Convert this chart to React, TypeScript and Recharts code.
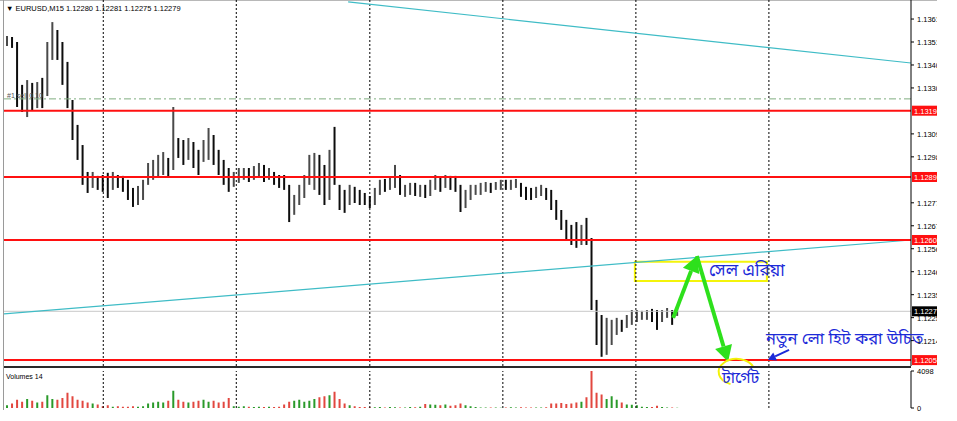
import React from 'react';
import {
  ComposedChart,
  Bar,
  Cell,
  XAxis,
  YAxis,
  ReferenceLine,
  ReferenceArea,
  ReferenceDot,
} from 'recharts';

// EURUSD M15 bars (one bar per slot)
const highs = [
  1.13537, 1.13533, 1.13510, 1.13314, 1.13336, 1.13323, 1.13327, 1.13346, 1.13510, 1.13601,
  1.13565, 1.13510, 1.13419, 1.13245, 1.13131, 1.13039, 1.12916, 1.12916, 1.12898, 1.12902,
  1.12912, 1.12916, 1.12902, 1.12898, 1.12880, 1.12843, 1.12852, 1.12880, 1.12957, 1.12971,
  1.12994, 1.13007, 1.12980, 1.13213, 1.13071, 1.13062, 1.13071, 1.13053, 1.13017, 1.13062,
  1.13117, 1.13085, 1.13017, 1.12971, 1.12934, 1.12916, 1.12934, 1.12934, 1.12934, 1.12943,
  1.12957, 1.12948, 1.12934, 1.12916, 1.12902, 1.12902, 1.12857, 1.12811, 1.12857, 1.12902,
  1.12994, 1.13003, 1.12994, 1.12948, 1.13017, 1.13122, 1.12857, 1.12834, 1.12857, 1.12848,
  1.12834, 1.12820, 1.12806, 1.12843, 1.12880, 1.12884, 1.12889, 1.12948, 1.12902, 1.12857,
  1.12866, 1.12866, 1.12857, 1.12857, 1.12880, 1.12902, 1.12889, 1.12902, 1.12898, 1.12898,
  1.12857, 1.12834, 1.12857, 1.12857, 1.12866, 1.12870, 1.12866, 1.12870, 1.12880, 1.12880,
  1.12880, 1.12884, 1.12866, 1.12848, 1.12843, 1.12848, 1.12857, 1.12843, 1.12834, 1.12788,
  1.12742, 1.12697, 1.12674, 1.12687, 1.12674, 1.12706, 1.12614, 1.12331, 1.12262, 1.12249,
  1.12240, 1.12249, 1.12240, 1.12262, 1.12285, 1.12285, 1.12281, 1.12285, 1.12290, 1.12285,
  1.12285, 1.12294, 1.12285, 1.12299,
];
const lows = [
  1.13492, 1.13483, 1.13213, 1.13190, 1.13167, 1.13199, 1.13208, 1.13208, 1.13263, 1.13428,
  1.13428, 1.13314, 1.13208, 1.13062, 1.12971, 1.12857, 1.12820, 1.12843, 1.12834, 1.12825,
  1.12797, 1.12834, 1.12843, 1.12825, 1.12788, 1.12756, 1.12765, 1.12788, 1.12857, 1.12880,
  1.12889, 1.12902, 1.12889, 1.12925, 1.12980, 1.12948, 1.12971, 1.12934, 1.12902, 1.12962,
  1.12971, 1.12948, 1.12902, 1.12857, 1.12825, 1.12848, 1.12866, 1.12880, 1.12870, 1.12880,
  1.12893, 1.12870, 1.12880, 1.12857, 1.12843, 1.12834, 1.12687, 1.12720, 1.12765, 1.12797,
  1.12857, 1.12834, 1.12811, 1.12765, 1.12788, 1.12857, 1.12742, 1.12729, 1.12765, 1.12774,
  1.12765, 1.12765, 1.12751, 1.12765, 1.12811, 1.12825, 1.12834, 1.12843, 1.12811, 1.12802,
  1.12811, 1.12806, 1.12802, 1.12797, 1.12806, 1.12834, 1.12825, 1.12843, 1.12834, 1.12825,
  1.12733, 1.12751, 1.12788, 1.12811, 1.12811, 1.12825, 1.12820, 1.12834, 1.12834, 1.12834,
  1.12834, 1.12843, 1.12802, 1.12788, 1.12788, 1.12797, 1.12806, 1.12788, 1.12742, 1.12697,
  1.12651, 1.12605, 1.12582, 1.12569, 1.12582, 1.12582, 1.12285, 1.12125, 1.12071, 1.12080,
  1.12125, 1.12171, 1.12185, 1.12203, 1.12217, 1.12230, 1.12240, 1.12240, 1.12230, 1.12194,
  1.12230, 1.12249, 1.12217, 1.12258,
];
const closes = [
  1.13519, 1.13501, 1.13268, 1.13245, 1.13268, 1.13254, 1.13291, 1.13282, 1.13473, 1.13542,
  1.13496, 1.13382, 1.13268, 1.13108, 1.13017, 1.12889, 1.12870, 1.12889, 1.12870, 1.12861,
  1.12857, 1.12880, 1.12870, 1.12852, 1.12820, 1.12788, 1.12834, 1.12852, 1.12925, 1.12943,
  1.12948, 1.12971, 1.12943, 1.13039, 1.13017, 1.12994, 1.13026, 1.12980, 1.12971, 1.13017,
  1.13062, 1.12994, 1.12948, 1.12902, 1.12880, 1.12889, 1.12902, 1.12907, 1.12898, 1.12921,
  1.12934, 1.12898, 1.12916, 1.12889, 1.12880, 1.12861, 1.12742, 1.12788, 1.12825, 1.12880,
  1.12948, 1.12971, 1.12925, 1.12902, 1.12971, 1.12902, 1.12788, 1.12765, 1.12825, 1.12806,
  1.12797, 1.12793, 1.12770, 1.12825, 1.12866, 1.12861, 1.12870, 1.12902, 1.12834, 1.12843,
  1.12852, 1.12834, 1.12834, 1.12825, 1.12843, 1.12880, 1.12861, 1.12880, 1.12870, 1.12852,
  1.12765, 1.12811, 1.12834, 1.12843, 1.12852, 1.12857, 1.12852, 1.12861, 1.12866, 1.12861,
  1.12870, 1.12870, 1.12820, 1.12811, 1.12806, 1.12816, 1.12834, 1.12811, 1.12765, 1.12720,
  1.12674, 1.12642, 1.12614, 1.12605, 1.12628, 1.12605, 1.12331, 1.12194, 1.12148, 1.12171,
  1.12194, 1.12217, 1.12212, 1.12240, 1.12258, 1.12267, 1.12267, 1.12272, 1.12262, 1.12249,
  1.12267, 1.12276, 1.12262, 1.12279,
];
const volumes = [
  300, 500, 900, 700, 1000, 800, 600, 700, 1400, 1000,
  900, 1100, 1700, 1300, 900, 800, 600, 500, 400, 200,
  300, 150, 200, 150, 150, 200, 150, 200, 500, 600,
  700, 600, 800, 1900, 900, 700, 600, 700, 800, 900,
  700, 800, 600, 700, 1100, 200, 150, 200, 150, 100,
  150, 100, 150, 100, 150, 400, 700, 800, 900, 700,
  800, 1000, 1200, 1300, 1400, 1800, 1000, 500, 300, 200,
  100, 100, 80, 80, 100, 50, 100, 80, 50, 50,
  100, 80, 150, 450, 400, 350, 300, 400, 250, 300,
  500, 300, 200, 100, 50, 50, 60, 50, 40, 50,
  80, 50, 80, 50, 50, 60, 50, 80, 500, 500,
  550, 450, 500, 600, 700, 1200, 4098, 1700, 1500, 1000,
  1300, 900, 600, 400, 350, 300, 150, 100, 100, 250,
  100, 50, 50, 30,
];

const priceTicks = [
  1.13615, 1.1351, 1.13405, 1.133, 1.1309, 1.12985, 1.12775,
  1.1267, 1.12565, 1.1246, 1.12355, 1.1225, 1.12145,
];
const levels = [1.13196, 1.12893, 1.12605, 1.12056];
const orderLevel = 1.1325;
const lastPrice = 1.12279;
const volTicks = [0, 4098];
const gridBars = [19.2, 45.6, 72.1, 98.5, 124.9, 151.3];

const upperTrend = [{ x: 67.8, y: 1.13693 }, { x: 179.5, y: 1.13414 }];
const lowerTrend = [{ x: -0.5, y: 1.12267 }, { x: 179.5, y: 1.12605 }];
const sellZone = { x1: 124.7, x2: 150.9, y1: 1.12418, y2: 1.12505 };
const arrowUp = [{ x: 132.3, y: 1.12249 }, { x: 137.0, y: 1.12532 }];
const arrowDown = [{ x: 137.0, y: 1.12532 }, { x: 143.2, y: 1.12048 }];
const hintArrow = [{ x: 155.3, y: 1.12103 }, { x: 151.1, y: 1.12057 }];
const targetSpot = { x: 144.9, y: 1.12002 };
const notes = [
  { x: 139.4, y: 1.12468, text: 'সেল এরিয়া', size: 17 },
  { x: 150.7, y: 1.12157, text: 'নতুন লো হিট করা উচিত', size: 16.5 },
  { x: 142.0, y: 1.11979, text: 'টার্গেট', size: 16 },
];

const X_DOMAIN: [number, number] = [-0.5, 179.5];
const Y_DOMAIN: [number, number] = [1.12029, 1.13702];
const FONT = '"Liberation Sans", Arial, sans-serif';
const BENGALI = '"Noto Sans", "Noto Sans Bengali", "Lohit Bengali", sans-serif';

const rows = closes.map((c, i) => ({
  i,
  range: [lows[i], highs[i]],
  vol: volumes[i],
  up: i === 0 ? true : c >= closes[i - 1],
}));

const PriceTick = (props: any) => {
  const { x, y, payload } = props;
  return (
    <text x={x + 1} y={y + 3} fontSize={7.5} fontFamily={FONT} fill="#000">
      {payload.value.toFixed(5)}
    </text>
  );
};

const VolTick = (props: any) => {
  const { x, y, payload } = props;
  return (
    <text x={x + 1} y={y + 3} fontSize={7.5} fontFamily={FONT} fill="#000">
      {payload.value}
    </text>
  );
};

const priceTag = (value: number, bg: string) => (p: any) => (
  <g>
    <rect x={p.cx + 1} y={p.cy - 5} width={40} height={10} fill={bg} />
    <text x={p.cx + 3} y={p.cy + 3} fontSize={7.5} fontFamily={FONT} fill="#fff">
      {value.toFixed(5)}
    </text>
  </g>
);

const arrowShape = (color: string, width: number, head: number) => (p: any) => {
  const { x1, y1, x2, y2 } = p;
  const a = Math.atan2(y2 - y1, x2 - x1);
  const bx = x2 - head * Math.cos(a);
  const by = y2 - head * Math.sin(a);
  const nx = -Math.sin(a) * head * 0.55;
  const ny = Math.cos(a) * head * 0.55;
  return (
    <g>
      <line x1={x1} y1={y1} x2={bx} y2={by} stroke={color} strokeWidth={width} />
      <polygon points={`${x2},${y2} ${bx + nx},${by + ny} ${bx - nx},${by - ny}`} fill={color} />
    </g>
  );
};

const ringShape = (p: any) => {
  const { cx, cy } = p;
  const rx = 18;
  const ry = 13;
  const pt = (deg: number) => {
    const r = (deg * Math.PI) / 180;
    return `${cx + rx * Math.cos(r)},${cy - ry * Math.sin(r)}`;
  };
  return (
    <path
      d={`M${pt(20)} A${rx},${ry} 0 1,0 ${pt(250)}`}
      fill="none"
      stroke="#f2f20a"
      strokeWidth={2}
    />
  );
};

const noteShape = (text: string, size: number) => (p: any) => (
  <text x={p.cx} y={p.cy + size * 0.35} fontSize={size} fontFamily={BENGALI} fill="#1c2ad8">
    {text}
  </text>
);

const orderTag = (p: any) => (
  <text x={p.cx} y={p.cy - 1} fontSize={7} fontFamily={FONT} fill="#555">
    #1 sell 0.10
  </text>
);

export default function App() {
  return (
    <div
      style={{
        position: 'absolute',
        left: 0,
        top: 0,
        width: 957,
        height: 421,
        background: '#fff',
        overflow: 'hidden',
      }}
    >
      <style>{'.recharts-surface{overflow:visible}'}</style>
      <div style={{ position: 'absolute', left: 0, top: 0, width: 937, height: 1, background: '#b8b8b8' }} />
      <div style={{ position: 'absolute', left: 3, top: 0, width: 1, height: 410, background: '#9a9a9a' }} />

      <div style={{ position: 'absolute', left: 0, top: 0 }}>
        <ComposedChart width={957} height={366} data={rows} margin={{ top: 0, right: 0, bottom: 0, left: 4 }}>
          <XAxis type="number" dataKey="i" domain={X_DOMAIN} hide allowDataOverflow />
          <YAxis
            orientation="right"
            width={46}
            domain={Y_DOMAIN}
            allowDataOverflow
            ticks={priceTicks}
            interval={0}
            tick={PriceTick}
            tickSize={3}
            tickLine={{ stroke: '#000' }}
            axisLine={{ stroke: '#000' }}
          />
          {gridBars.map(g => (
            <ReferenceLine key={g} x={g} stroke="#000" strokeDasharray="2 2" />
          ))}
          <ReferenceLine y={orderLevel} stroke="#7fae7f" strokeDasharray="7 3 2 3" />
          <ReferenceLine y={lastPrice} stroke="#c8c8c8" />
          <ReferenceLine segment={upperTrend} stroke="#3fbcc6" strokeWidth={1.2} ifOverflow="hidden" />
          <ReferenceLine segment={lowerTrend} stroke="#3fbcc6" strokeWidth={1.2} ifOverflow="hidden" />
          {levels.map(l => (
            <ReferenceLine key={l} y={l} stroke="#ff1010" strokeWidth={2} />
          ))}
          <ReferenceArea
            x1={sellZone.x1}
            x2={sellZone.x2}
            y1={sellZone.y1}
            y2={sellZone.y2}
            fill="none"
            fillOpacity={0}
            stroke="#f4f40c"
            strokeWidth={2}
          />
          <Bar dataKey="range" barSize={2} fill="#1a1a1a" isAnimationActive={false}>
            {rows.map(r => (
              <Cell key={r.i} fill={r.up ? '#4a4a4a' : '#0d0d0d'} />
            ))}
          </Bar>
          <ReferenceLine segment={arrowUp} shape={arrowShape('#2ee01c', 4, 16)} ifOverflow="visible" />
          <ReferenceLine segment={arrowDown} shape={arrowShape('#2ee01c', 4, 16)} ifOverflow="visible" />
          <ReferenceLine segment={hintArrow} shape={arrowShape('#1c2ad8', 2, 8)} ifOverflow="visible" />
          <ReferenceDot x={targetSpot.x} y={targetSpot.y} r={0} shape={ringShape} ifOverflow="visible" />
          {notes.map(n => (
            <ReferenceDot key={n.text} x={n.x} y={n.y} r={0} shape={noteShape(n.text, n.size)} ifOverflow="visible" />
          ))}
          <ReferenceDot x={0.1} y={orderLevel} r={0} shape={orderTag} ifOverflow="visible" />
          {levels.map(l => (
            <ReferenceDot key={'t' + l} x={179.5} y={l} r={0} shape={priceTag(l, '#ff1010')} ifOverflow="visible" />
          ))}
          <ReferenceDot x={179.5} y={lastPrice} r={0} shape={priceTag(lastPrice, '#000')} ifOverflow="visible" />
        </ComposedChart>
      </div>

      <div style={{ position: 'absolute', left: 4, top: 366, width: 907, height: 2, background: '#2a2a2a' }} />

      <div style={{ position: 'absolute', left: 0, top: 366 }}>
        <ComposedChart width={957} height={45} data={rows} margin={{ top: 5, right: 0, bottom: 3, left: 4 }}>
          <XAxis type="number" dataKey="i" domain={X_DOMAIN} hide allowDataOverflow />
          <YAxis
            orientation="right"
            width={46}
            domain={[0, 4098]}
            ticks={volTicks}
            interval={0}
            tick={VolTick}
            tickSize={3}
            tickLine={{ stroke: '#000' }}
            axisLine={{ stroke: '#000' }}
          />
          {gridBars.map(g => (
            <ReferenceLine key={g} x={g} stroke="#000" strokeDasharray="2 2" />
          ))}
          <Bar dataKey="vol" barSize={2} isAnimationActive={false}>
            {rows.map(r => (
              <Cell key={r.i} fill={r.up ? '#2a9a2a' : '#e2473f'} />
            ))}
          </Bar>
        </ComposedChart>
      </div>

      <div
        style={{
          position: 'absolute',
          left: 6,
          top: 4,
          fontSize: 7.5,
          fontFamily: FONT,
          color: '#000',
          whiteSpace: 'nowrap',
        }}
      >
        ▼ EURUSD,M15  1.12280 1.12281 1.12275 1.12279
      </div>
      <div
        style={{
          position: 'absolute',
          left: 6,
          top: 373,
          fontSize: 7,
          fontFamily: FONT,
          color: '#000',
        }}
      >
        Volumes 14
      </div>
      <div style={{ position: 'absolute', left: 937, top: 0, width: 20, height: 421, background: '#fff' }} />
    </div>
  );
}
